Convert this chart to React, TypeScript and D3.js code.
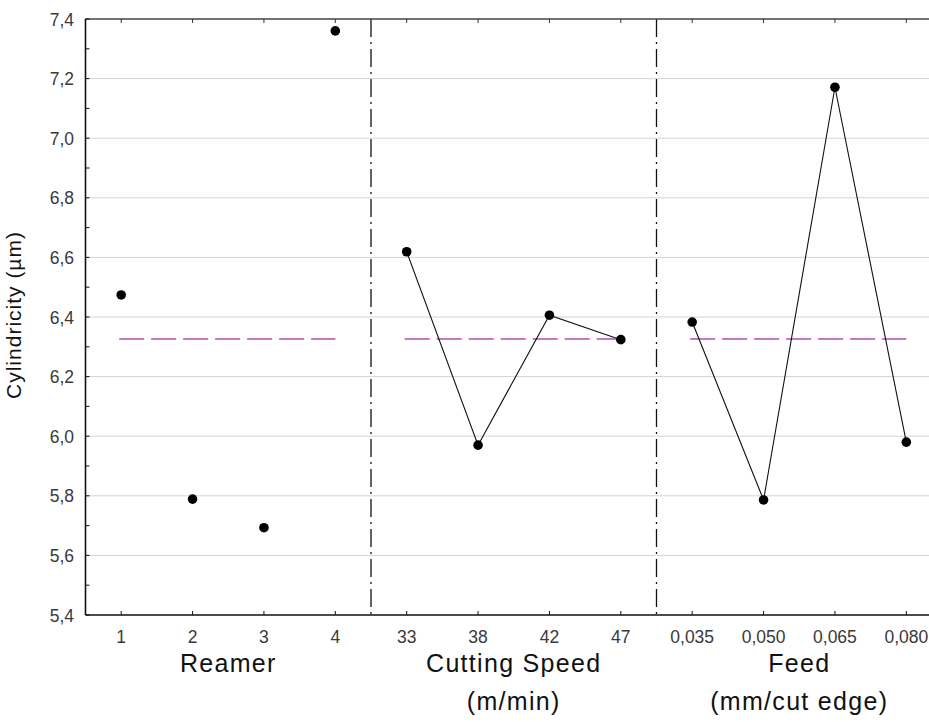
import React from "react";
import * as d3 from "d3";

const reamerLabels = ["1", "2", "3", "4"];
const reamerValues = [6.474, 5.789, 5.693, 7.36];
const speedLabels = ["33", "38", "42", "47"];
const speedValues = [6.619, 5.97, 6.406, 6.324];
const feedLabels = ["0,035", "0,050", "0,065", "0,080"];
const feedValues = [6.383, 5.786, 7.171, 5.98];
const grandMean = [6.326];
const groupTitles = [["Reamer"], ["Cutting Speed", "(m/min)"], ["Feed", "(mm/cut edge)"]];
const yTicks = [5.4, 5.6, 5.8, 6.0, 6.2, 6.4, 6.6, 6.8, 7.0, 7.2, 7.4];
const yMinor = [5.5, 5.7, 5.9, 6.1, 6.3, 6.5, 6.7, 6.9, 7.1, 7.3];

const W = 929;
const H = 722;

export default function App() {
  const x = d3.scaleLinear().domain([-0.5, 11.5]).range([85.5, 942]);
  const y = d3.scaleLinear().domain([5.4, 7.4]).range([615, 19]);
  const left = x(-0.5);
  const right = W + 5;
  const top = y(7.4);
  const bottom = y(5.4);

  const groups = [
    { labels: reamerLabels, values: reamerValues, connect: false },
    { labels: speedLabels, values: speedValues, connect: true },
    { labels: feedLabels, values: feedValues, connect: true },
  ];

  const line = d3
    .line<[number, number]>()
    .x((d) => d[0])
    .y((d) => d[1]);

  const fmt = (v: number) => v.toFixed(1).replace(".", ",");
  const tickFont = "'Liberation Sans', Arial, sans-serif";

  return (
    <svg
      width={W}
      height={H}
      style={{ position: "fixed", left: 0, top: 0, background: "#fff" }}
    >
      <rect x={0} y={0} width={W} height={H} fill="#fff" />
      {/* gridlines */}
      {yTicks
        .filter((t) => t > 5.41 && t < 7.39)
        .map((t) => (
          <line
            key={"g" + t}
            x1={left}
            x2={right}
            y1={y(t)}
            y2={y(t)}
            stroke="#a8a8a8"
            strokeWidth={1}
            strokeDasharray="1,1"
          />
        ))}
      {/* separators */}
      {[3.5, 7.5].map((k) => (
        <line
          key={"s" + k}
          x1={x(k)}
          x2={x(k)}
          y1={top}
          y2={bottom}
          stroke="#111"
          strokeWidth={1.3}
          strokeDasharray="18,5,2,5"
        />
      ))}
      {/* mean lines */}
      {groups.map((g, gi) => (
        <line
          key={"m" + gi}
          x1={x(gi * 4) - 2}
          x2={x(gi * 4 + 3)}
          y1={y(grandMean[0])}
          y2={y(grandMean[0])}
          stroke="#b44cb4"
          strokeWidth={1.6}
          strokeDasharray="25,7"
        />
      ))}
      {/* connecting lines */}
      {groups.map((g, gi) =>
        g.connect ? (
          <path
            key={"l" + gi}
            d={line(g.values.map((v, i) => [x(gi * 4 + i), y(v)])) || ""}
            fill="none"
            stroke="#111"
            strokeWidth={1.1}
          />
        ) : null
      )}
      {/* points */}
      {groups.map((g, gi) =>
        g.values.map((v, i) => (
          <circle
            key={"p" + gi + "-" + i}
            cx={x(gi * 4 + i)}
            cy={y(v)}
            r={4.8}
            fill="#000"
          />
        ))
      )}
      {/* frame */}
      <line x1={left} x2={right} y1={top} y2={top} stroke="#444" strokeWidth={1.6} />
      <line x1={left} x2={right} y1={bottom} y2={bottom} stroke="#111" strokeWidth={1.6} />
      <line x1={left} x2={left} y1={top} y2={bottom} stroke="#111" strokeWidth={1.6} />
      {/* y ticks */}
      {yTicks.concat(yMinor).map((t) => (
        <line
          key={"yt" + t}
          x1={left}
          x2={left + 4}
          y1={y(t)}
          y2={y(t)}
          stroke="#111"
          strokeWidth={1}
        />
      ))}
      {yTicks.map((t) => (
        <text
          key={"yl" + t}
          x={74}
          y={y(t) + 6.5}
          textAnchor="end"
          fontFamily={tickFont}
          fontSize={17.5}
          fill="#3a3a3a"
        >
          {fmt(t)}
        </text>
      ))}
      {/* x ticks and labels */}
      {groups.map((g, gi) =>
        g.labels.map((lab, i) => {
          const cx = x(gi * 4 + i);
          return (
            <g key={"xt" + gi + "-" + i}>
              <line x1={cx} x2={cx} y1={bottom} y2={bottom - 4} stroke="#111" />
              <line x1={cx} x2={cx} y1={top} y2={top + 4} stroke="#333" />
              <text
                x={cx}
                y={643}
                textAnchor="middle"
                fontFamily={tickFont}
                fontSize={17.5}
                fill="#3a3a3a"
              >
                {lab}
              </text>
            </g>
          );
        })
      )}
      {/* group titles */}
      {groupTitles.map((lines, gi) =>
        lines.map((t, li) => (
          <text
            key={"gt" + gi + "-" + li}
            x={x(gi * 4 + 1.5)}
            y={672 + li * 38}
            textAnchor="middle"
            fontFamily={tickFont}
            fontSize={25}
            letterSpacing={1.3}
            fill="#111"
          >
            {t}
          </text>
        ))
      )}
      {/* y title */}
      <text
        transform={`translate(21, ${(top + bottom) / 2 - 2}) rotate(-90)`}
        textAnchor="middle"
        fontFamily={tickFont}
        fontSize={21}
        letterSpacing={1}
        fill="#111"
      >
        Cylindricity (µm)
      </text>
    </svg>
  );
}
